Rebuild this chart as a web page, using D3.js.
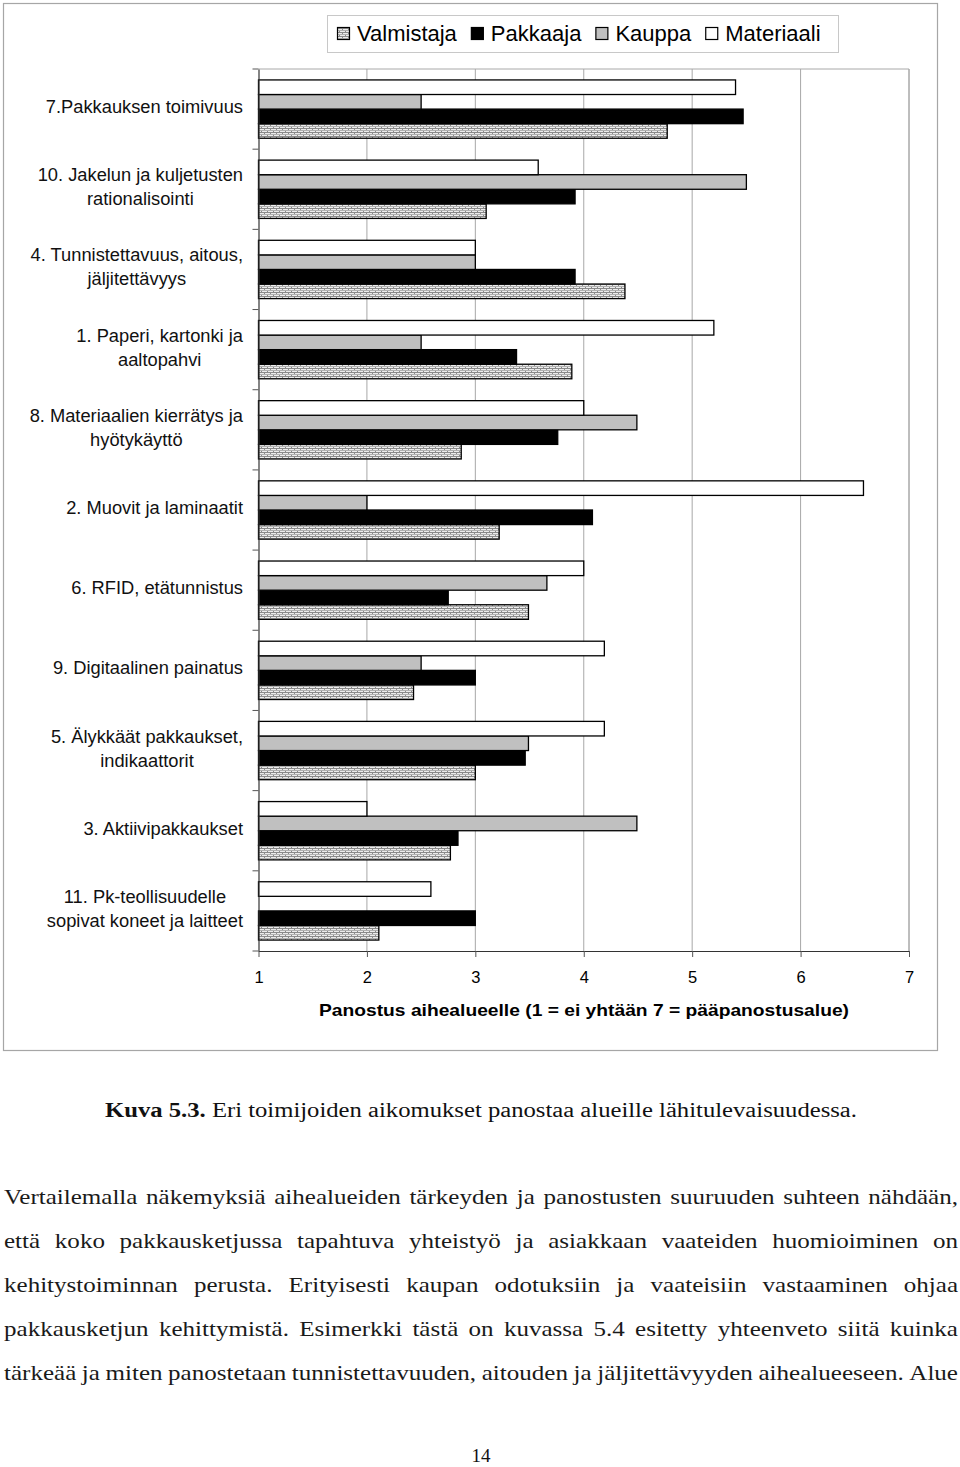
<!DOCTYPE html>
<html><head><meta charset="utf-8">
<script src="https://cdn.jsdelivr.net/npm/d3@7"></script>
<style>body{margin:0;background:#fff}svg{display:block}</style>
</head><body>
<script>
const categories = [
  ["7.Pakkauksen toimivuus"],
  ["10. Jakelun ja kuljetusten","rationalisointi"],
  ["4. Tunnistettavuus, aitous,","jäljitettävyys"],
  ["1. Paperi, kartonki ja","aaltopahvi"],
  ["8. Materiaalien kierrätys ja","hyötykäyttö"],
  ["2. Muovit ja laminaatit"],
  ["6. RFID, etätunnistus"],
  ["9. Digitaalinen painatus"],
  ["5. Älykkäät pakkaukset,","indikaattorit"],
  ["3. Aktiivipakkaukset"],
  ["11. Pk-teollisuudelle","sopivat koneet ja laitteet"]
];
const seriesNames = ["Valmistaja","Pakkaaja","Kauppa","Materiaali"];
const valmistaja = [4.77, 3.10, 4.38, 3.89, 2.87, 3.22, 3.49, 2.43, 3.00, 2.77, 2.11];
const pakkaaja   = [5.47, 3.92, 3.92, 3.38, 3.76, 4.08, 2.75, 3.00, 3.46, 2.84, 3.00];
const kauppa     = [2.50, 5.50, 3.00, 2.50, 4.49, 2.00, 3.66, 2.50, 3.49, 4.49, 1.00];
const materiaali = [5.40, 3.58, 3.00, 5.20, 4.00, 6.58, 4.00, 4.19, 4.19, 2.00, 2.59];
const xTicks = [1,2,3,4,5,6,7];
const xTitle = "Panostus aihealueelle (1 = ei yhtään  7 = pääpanostusalue)";
const captionBold = "Kuva 5.3.";
const captionText = " Eri toimijoiden aikomukset panostaa alueille lähitulevaisuudessa.";
const paragraph = [
  "Vertailemalla näkemyksiä aihealueiden tärkeyden ja panostusten suuruuden suhteen nähdään,",
  "että koko pakkausketjussa tapahtuva yhteistyö ja asiakkaan vaateiden huomioiminen on",
  "kehitystoiminnan perusta. Erityisesti kaupan odotuksiin ja vaateisiin vastaaminen ohjaa",
  "pakkausketjun kehittymistä. Esimerkki tästä on kuvassa 5.4 esitetty yhteenveto siitä kuinka",
  "tärkeää ja miten panostetaan tunnistettavuuden, aitouden ja jäljitettävyyden aihealueeseen. Alue"
];
const pageNumber = "14";

(function(){
const seriesValues = {Valmistaja: valmistaja, Pakkaaja: pakkaaja, Kauppa: kauppa, Materiaali: materiaali};
const fills = {Valmistaja: "url(#brick)", Pakkaaja: "#000", Kauppa: "#c0c0c0", Materiaali: "#fff"};

const W = 960, H = 1467;
const svg = d3.select("body").append("svg").attr("width", W).attr("height", H);
svg.append("rect").attr("width", W).attr("height", H).attr("fill", "#fff");

const defs = svg.append("defs");
const pat = defs.append("pattern").attr("id","brick").attr("patternUnits","userSpaceOnUse")
  .attr("width",6).attr("height",4);
pat.append("rect").attr("width",6).attr("height",4).attr("fill","#ececec");
pat.append("rect").attr("x",0).attr("y",0).attr("width",6).attr("height",1).attr("fill","#8a8a8a");
pat.append("rect").attr("x",0).attr("y",1).attr("width",1).attr("height",1).attr("fill","#8a8a8a");
pat.append("rect").attr("x",0).attr("y",2).attr("width",6).attr("height",1).attr("fill","#b0b0b0");
pat.append("rect").attr("x",3).attr("y",3).attr("width",1).attr("height",1).attr("fill","#8a8a8a");

const sans = "Arial, 'Liberation Sans', sans-serif";
const serif = "Garamond, 'Liberation Serif', 'DejaVu Serif', serif";

svg.append("rect").attr("x",3.5).attr("y",3.5).attr("width",934).attr("height",1047)
  .attr("fill","none").attr("stroke","#a6a6a6").attr("stroke-width",1.2);

const pLeft = 258.5, pRight = 909, pTop = 69, pBottom = 951;
const x = d3.scaleLinear().domain([1,7]).range([pLeft,pRight]);
const y = d3.scaleBand().domain(d3.range(categories.length)).range([pTop,pBottom]).padding(0);
const inner = d3.scaleBand().domain(["Materiaali","Kauppa","Pakkaaja","Valmistaja"])
  .range([0, y.bandwidth()]).paddingInner(0).paddingOuter(0.75);

const g = svg.append("g");
g.selectAll(".grid").data(xTicks.slice(1)).join("line")
  .attr("x1", d=>x(d)).attr("x2", d=>x(d)).attr("y1", pTop).attr("y2", pBottom)
  .attr("stroke", "#a8a8a8").attr("stroke-width", 1);
g.append("line").attr("x1",pLeft).attr("x2",pRight).attr("y1",pTop).attr("y2",pTop)
  .attr("stroke","#a8a8a8").attr("stroke-width",1);
g.append("line").attr("x1",pRight).attr("x2",pRight).attr("y1",pTop).attr("y2",pBottom)
  .attr("stroke","#a8a8a8");

seriesNames.forEach(s => {
  const vals = seriesValues[s].map((v,i)=>({v,i})).filter(d => d.v > 1);
  g.append("g").selectAll("rect").data(vals).join("rect")
    .attr("x", x(1)).attr("width", d => x(d.v) - x(1))
    .attr("y", d => y(d.i) + inner(s)).attr("height", inner.bandwidth())
    .attr("fill", fills[s]).attr("stroke", "#000").attr("stroke-width", 1.3);
});

const xAxis = d3.axisBottom(x).tickValues(xTicks).tickSize(6).tickSizeOuter(0).tickFormat(d3.format("d"));
const ax = svg.append("g").attr("transform", `translate(0,${pBottom})`).call(xAxis);
ax.select(".domain").attr("stroke","#333").attr("stroke-width",1.2);
ax.selectAll(".tick line").attr("stroke","#555");
ax.selectAll(".tick text").attr("font-family",sans).attr("font-size",16.5).attr("fill","#000")
  .attr("dy",0).attr("y",32);

const yAxis = d3.axisLeft(y).tickSize(0).tickFormat("");
const ay = svg.append("g").attr("transform", `translate(${pLeft},0)`).call(yAxis);
ay.select(".domain").attr("stroke","#333").attr("stroke-width",1.2);
ay.selectAll(".tick").remove();
svg.append("g").selectAll("line").data(d3.range(categories.length+1)).join("line")
  .attr("x1", pLeft-6).attr("x2", pLeft)
  .attr("y1", d => d < categories.length ? y(d) : pBottom)
  .attr("y2", d => d < categories.length ? y(d) : pBottom)
  .attr("stroke","#555");

const labG = svg.append("g").attr("font-family",sans).attr("font-size",18.3).attr("fill","#111");
categories.forEach((lines,i) => {
  const cy = y(i) + y.bandwidth()/2 - 2;
  const t = labG.append("text").attr("text-anchor","middle");
  lines.forEach((ln,j) => {
    t.append("tspan").text(ln).attr("y", cy + (j - (lines.length-1)/2)*24 + 6);
  });
  let maxW = 0;
  t.selectAll("tspan").each(function(){ maxW = Math.max(maxW, this.getComputedTextLength()); });
  t.selectAll("tspan").attr("x", 243 - maxW/2);
});

svg.append("text").attr("x", 584).attr("y", 1016).attr("text-anchor","middle")
  .attr("font-family",sans).attr("font-weight","bold").attr("font-size",16.5)
  .attr("textLength",530).attr("lengthAdjust","spacingAndGlyphs").text(xTitle);

svg.append("rect").attr("x",327.5).attr("y",15.5).attr("width",511).attr("height",37)
  .attr("fill","#fff").attr("stroke","#c8c8c8");
let lx = 337;
seriesNames.forEach(s => {
  svg.append("rect").attr("x",lx+0.5).attr("y",27.5).attr("width",12).attr("height",12)
    .attr("fill",fills[s]).attr("stroke","#000").attr("stroke-width",1.2);
  const t = svg.append("text").attr("x",lx+20).attr("y",41).attr("font-family",sans)
    .attr("font-size",22).attr("fill","#000").text(s);
  lx += 20 + t.node().getComputedTextLength() + 14;
});

const cap = svg.append("text").attr("x",105).attr("y",1117).attr("font-family",serif)
  .attr("font-size",20.5).attr("fill","#111").attr("textLength",752).attr("lengthAdjust","spacingAndGlyphs");
cap.append("tspan").attr("font-weight","bold").text(captionBold);
cap.append("tspan").text(captionText);

// paragraph, justified with a common horizontal stretch (set by the tightest line)
const fs = 21.5, avail = 954, minGap = 0.26*fs;
const rows = paragraph.map((line,i) => {
  const words = line.split(" ");
  const tg = svg.append("g").attr("font-family",serif).attr("font-size",fs).attr("fill","#1a1a1a");
  const nodes = words.map(w => tg.append("text").attr("y",1204 + i*44).text(w));
  const widths = nodes.map(n => n.node().getComputedTextLength());
  return {nodes, widths, total: d3.sum(widths), n: words.length};
});
const stretch = d3.min(rows, r => (avail - minGap*(r.n-1))/r.total);
rows.forEach(r => {
  const gap = (avail - r.total*stretch)/(r.n-1);
  let cx = 4;
  r.nodes.forEach((n,k) => {
    const w = r.widths[k]*stretch;
    n.attr("x", cx).attr("textLength", w).attr("lengthAdjust","spacingAndGlyphs");
    cx += w + gap;
  });
});

svg.append("text").attr("x",481).attr("y",1462).attr("text-anchor","middle")
  .attr("font-family",serif).attr("font-size",19).attr("fill","#111").text(pageNumber);
})();
</script>
</body></html>
